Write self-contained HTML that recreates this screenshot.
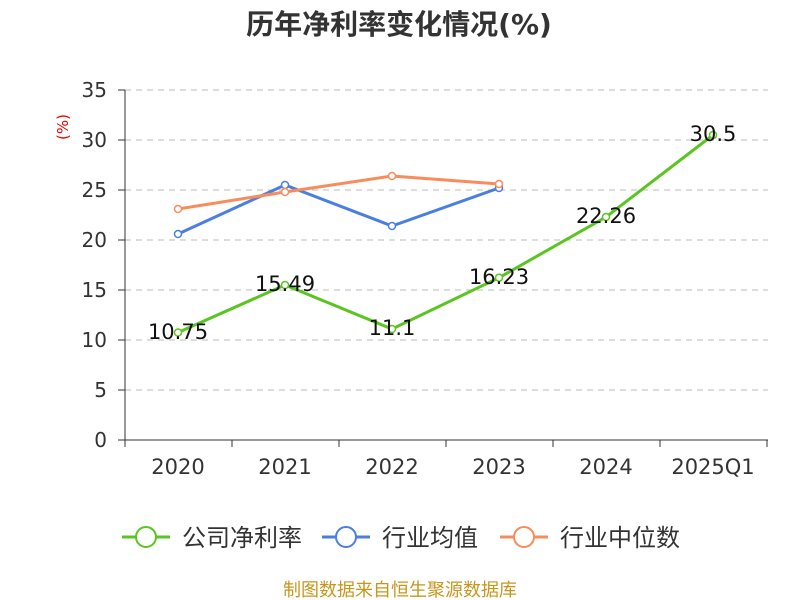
<!DOCTYPE html>
<html><head><meta charset="utf-8"><style>
body{margin:0;background:#fff;}
svg{display:block;font-family:"DejaVu Sans","Noto Sans CJK SC",sans-serif;}
</style></head><body>
<svg width="800" height="600" xmlns="http://www.w3.org/2000/svg">
<text x="399" y="34" text-anchor="middle" font-size="28" font-weight="bold" fill="#333">历年净利率变化情况(%)</text>
<text x="68" y="127" font-size="15" fill="#e00" transform="rotate(-90 68 127)" text-anchor="middle">(%)</text>
<g stroke="#bbb" stroke-dasharray="6,5" stroke-width="1">
<line x1="125" y1="90" x2="768" y2="90"/><line x1="125" y1="140" x2="768" y2="140"/>
<line x1="125" y1="190" x2="768" y2="190"/><line x1="125" y1="240" x2="768" y2="240"/>
<line x1="125" y1="290" x2="768" y2="290"/><line x1="125" y1="340" x2="768" y2="340"/>
<line x1="125" y1="390" x2="768" y2="390"/>
</g>
<g stroke="#333" stroke-width="1">
<line x1="125" y1="90" x2="125" y2="440"/><line x1="125" y1="440" x2="768" y2="440"/>
<line x1="118" y1="90" x2="125" y2="90"/><line x1="118" y1="140" x2="125" y2="140"/>
<line x1="118" y1="190" x2="125" y2="190"/><line x1="118" y1="240" x2="125" y2="240"/>
<line x1="118" y1="290" x2="125" y2="290"/><line x1="118" y1="340" x2="125" y2="340"/>
<line x1="118" y1="390" x2="125" y2="390"/><line x1="118" y1="440" x2="125" y2="440"/>
<line x1="125" y1="440" x2="125" y2="447"/><line x1="232" y1="440" x2="232" y2="447"/>
<line x1="339" y1="440" x2="339" y2="447"/><line x1="446" y1="440" x2="446" y2="447"/>
<line x1="553" y1="440" x2="553" y2="447"/><line x1="660" y1="440" x2="660" y2="447"/>
<line x1="767" y1="440" x2="767" y2="447"/>
</g>
<g font-size="20" fill="#333" text-anchor="end">
<text x="107" y="97">35</text><text x="107" y="147">30</text><text x="107" y="197">25</text>
<text x="107" y="247">20</text><text x="107" y="297">15</text><text x="107" y="347">10</text>
<text x="107" y="397">5</text><text x="107" y="447">0</text>
</g>
<g font-size="21" fill="#333" text-anchor="middle">
<text x="178" y="474">2020</text><text x="285" y="474">2021</text><text x="392" y="474">2022</text>
<text x="499" y="474">2023</text><text x="606" y="474">2024</text><text x="713" y="474">2025Q1</text>
</g>
<polyline points="178,234 285,185 392,226 499,188" fill="none" stroke="#4a7ee0" stroke-width="3"/>
<polyline points="178,209 285,192 392,176 499,184" fill="none" stroke="#f98c5b" stroke-width="3"/>
<polyline points="178,332.5 285,285 392,329 499,277.7 606,217 713,135" fill="none" stroke="#5ac521" stroke-width="3"/>
<g fill="#fff" stroke-width="1.5">
<g stroke="#4a7ee0"><circle cx="178" cy="234" r="3.5"/><circle cx="285" cy="185" r="3.5"/><circle cx="392" cy="226" r="3.5"/><circle cx="499" cy="188" r="3.5"/></g>
<g stroke="#f98c5b"><circle cx="178" cy="209" r="3.5"/><circle cx="285" cy="192" r="3.5"/><circle cx="392" cy="176" r="3.5"/><circle cx="499" cy="184" r="3.5"/></g>
<g stroke="#5ac521"><circle cx="178" cy="332.5" r="3.5"/><circle cx="285" cy="285" r="3.5"/><circle cx="392" cy="329" r="3.5"/><circle cx="499" cy="277.7" r="3.5"/><circle cx="606" cy="217" r="3.5"/><circle cx="713" cy="135" r="3.5"/></g>
</g>
<g font-size="21" fill="#111" text-anchor="middle">
<text x="178" y="339">10.75</text><text x="285" y="291">15.49</text><text x="392" y="335">11.1</text>
<text x="499" y="284">16.23</text><text x="606" y="223">22.26</text><text x="713" y="141">30.5</text>
</g>
<g font-size="24" fill="#333">
<line x1="122" y1="537" x2="170" y2="537" stroke="#5ac521" stroke-width="3"/><circle cx="146" cy="537" r="10" fill="#fff" stroke="#5ac521" stroke-width="2"/>
<text x="182" y="546">公司净利率</text>
<line x1="322" y1="537" x2="370" y2="537" stroke="#4a7ee0" stroke-width="3"/><circle cx="346" cy="537" r="10" fill="#fff" stroke="#4a7ee0" stroke-width="2"/>
<text x="382" y="546">行业均值</text>
<line x1="500" y1="537" x2="548" y2="537" stroke="#f98c5b" stroke-width="3"/><circle cx="524" cy="537" r="10" fill="#fff" stroke="#f98c5b" stroke-width="2"/>
<text x="560" y="546">行业中位数</text>
</g>
<text x="400" y="596" text-anchor="middle" font-size="18" fill="#c8961e">制图数据来自恒生聚源数据库</text>
</svg>
</body></html>
